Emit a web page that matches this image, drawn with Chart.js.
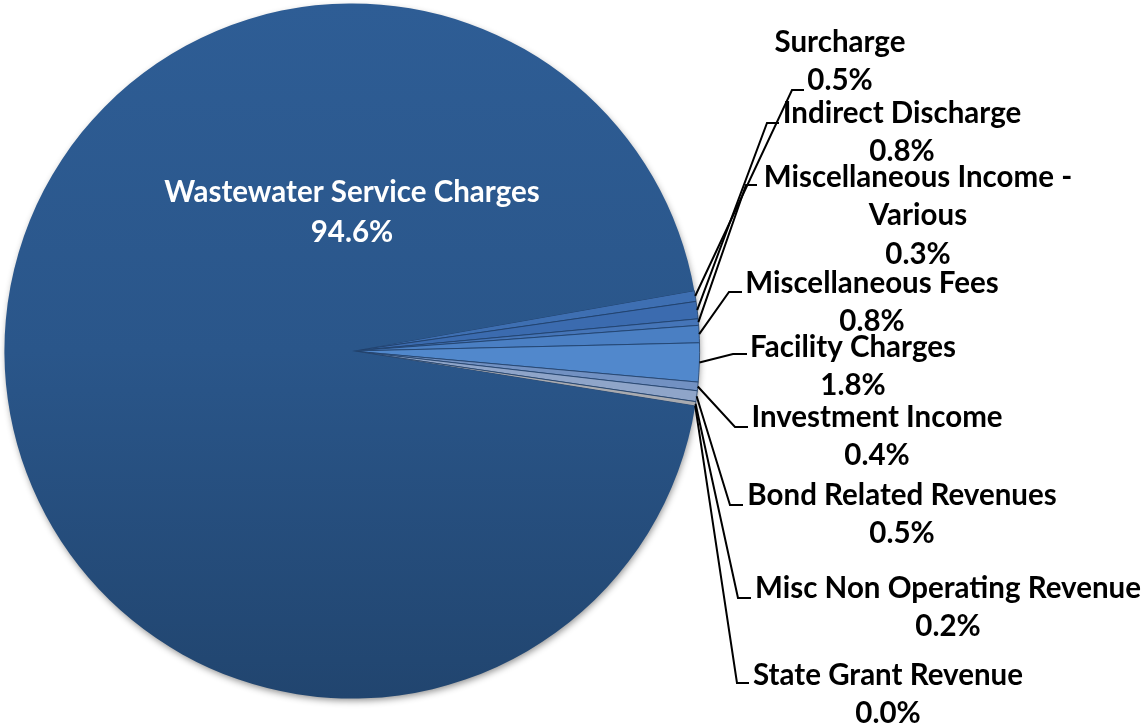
<!DOCTYPE html>
<html>
<head>
<meta charset="utf-8">
<title>Revenue Sources</title>
<script src="https://cdn.jsdelivr.net/npm/chart.js@4.4.1/dist/chart.umd.min.js"></script>
<style>
  html, body { margin: 0; padding: 0; background: #fff; }
  #wrap { width: 1142px; height: 726px; position: relative; }
</style>
</head>
<body>
<div id="wrap"><canvas id="revenueChart"></canvas></div>
<script>
const categories = [
    'Surcharge',
    'Indirect Discharge',
    'Miscellaneous Income - Various',
    'Miscellaneous Fees',
    'Facility Charges',
    'Investment Income',
    'Bond Related Revenues',
    'Misc Non Operating Revenue',
    'State Grant Revenue',
    'Wastewater Service Charges'
];
const shares = [0.5, 0.8, 0.3, 0.8, 1.8, 0.4, 0.5, 0.2, 0.0, 94.6];

// how each category name is broken onto lines in the labels
const labelLines = [
    ['Surcharge'],
    ['Indirect Discharge'],
    ['Miscellaneous Income -', 'Various'],
    ['Miscellaneous Fees'],
    ['Facility Charges'],
    ['Investment Income'],
    ['Bond Related Revenues'],
    ['Misc Non Operating Revenue'],
    ['State Grant Revenue'],
    ['Wastewater Service Charges']
];

const sliceColors = ['#3e6fb2', '#3b6baf', '#4575b8', '#4a7fc3', '#5188cc', '#7291c2', '#8fa5c9', '#a9abb0', '#8a9bbb', '#2b5a8e'];

// outside labels: text centre x, first line y, tick of the leader line [x1, x2, y]
const labelSpots = [
    { x: 840, y: 42, tick: [792, 804, 90] },
    { x: 902, y: 113, tick: [767, 779, 123] },
    { x: 918, y: 177, tick: [746, 757, 185] },
    { x: 872, y: 283, tick: [729, 742, 292] },
    { x: 853, y: 347, tick: [733, 747, 354] },
    { x: 877, y: 417, tick: [735, 748, 427] },
    { x: 902, y: 495, tick: [730, 743, 505] },
    { x: 948, y: 588, tick: [738, 751, 598] },
    { x: 888, y: 675, tick: [737, 749, 683] }
];

const FONT = 'bold 29.5px Lato, "Open Sans", sans-serif';
const LINE_GAP = 38.5;
const bigSlice = shares.length - 1;

function sliceFill(c) {
    const i = c.dataIndex;
    const area = c.chart.chartArea;
    if (i !== bigSlice || !area) return sliceColors[i];
    const g = c.chart.ctx.createLinearGradient(0, area.top, 0, area.bottom);
    g.addColorStop(0, '#2e5d95');
    g.addColorStop(0.5, '#2a568a');
    g.addColorStop(1, '#21456f');
    return g;
}

const pieLabels = {
    id: 'pieLabels',
    beforeDatasetsDraw(chart) {
        // soft shadow under the whole pie
        const arc = chart.getDatasetMeta(0).data[0];
        const ctx = chart.ctx;
        ctx.save();
        ctx.shadowColor = 'rgba(0,0,0,0.45)';
        ctx.shadowBlur = 7;
        ctx.shadowOffsetX = 1;
        ctx.shadowOffsetY = 3;
        ctx.beginPath();
        ctx.arc(arc.x, arc.y, arc.outerRadius - 1, 0, Math.PI * 2);
        ctx.fillStyle = '#23497a';
        ctx.fill();
        ctx.restore();
    },
    afterDatasetsDraw(chart) {
        const ctx = chart.ctx;
        const arcs = chart.getDatasetMeta(0).data;
        ctx.save();
        ctx.font = FONT;
        ctx.textAlign = 'center';
        ctx.textBaseline = 'middle';
        ctx.lineWidth = 2;
        ctx.strokeStyle = '#000';
        arcs.forEach((arc, i) => {
            const text = labelLines[i].concat(shares[i].toFixed(1) + '%');
            if (i === bigSlice) {
                ctx.fillStyle = '#fff';
                const y0 = arc.y - arc.outerRadius * 0.455;
                text.forEach((t, k) => ctx.fillText(t, arc.x, y0 + k * 40));
                return;
            }
            const spot = labelSpots[i];
            const mid = (arc.startAngle + arc.endAngle) / 2;
            const sx = arc.x + Math.cos(mid) * arc.outerRadius;
            const sy = arc.y + Math.sin(mid) * arc.outerRadius;
            ctx.beginPath();
            ctx.moveTo(sx, sy);
            ctx.lineTo(spot.tick[0], spot.tick[2]);
            ctx.lineTo(spot.tick[1], spot.tick[2]);
            ctx.stroke();
            ctx.fillStyle = '#000';
            text.forEach((t, k) => ctx.fillText(t, spot.x, spot.y + k * LINE_GAP));
        });
        ctx.restore();
    }
};

new Chart(document.getElementById('revenueChart'), {
    type: 'pie',
    data: {
        labels: categories,
        datasets: [{
            data: shares,
            backgroundColor: sliceFill,
            borderColor: '#1f3f68',
            borderWidth: shares.map((v, i) => i === bigSlice ? 0 : 0.8)
        }]
    },
    options: {
        responsive: true,
        maintainAspectRatio: false,
        animation: false,
        events: [],
        rotation: 80,
        layout: { padding: { left: 4, top: 3, right: 442, bottom: 27 } },
        plugins: {
            legend: { display: false },
            tooltip: { enabled: false }
        }
    },
    plugins: [pieLabels]
});
</script>
</body>
</html>
